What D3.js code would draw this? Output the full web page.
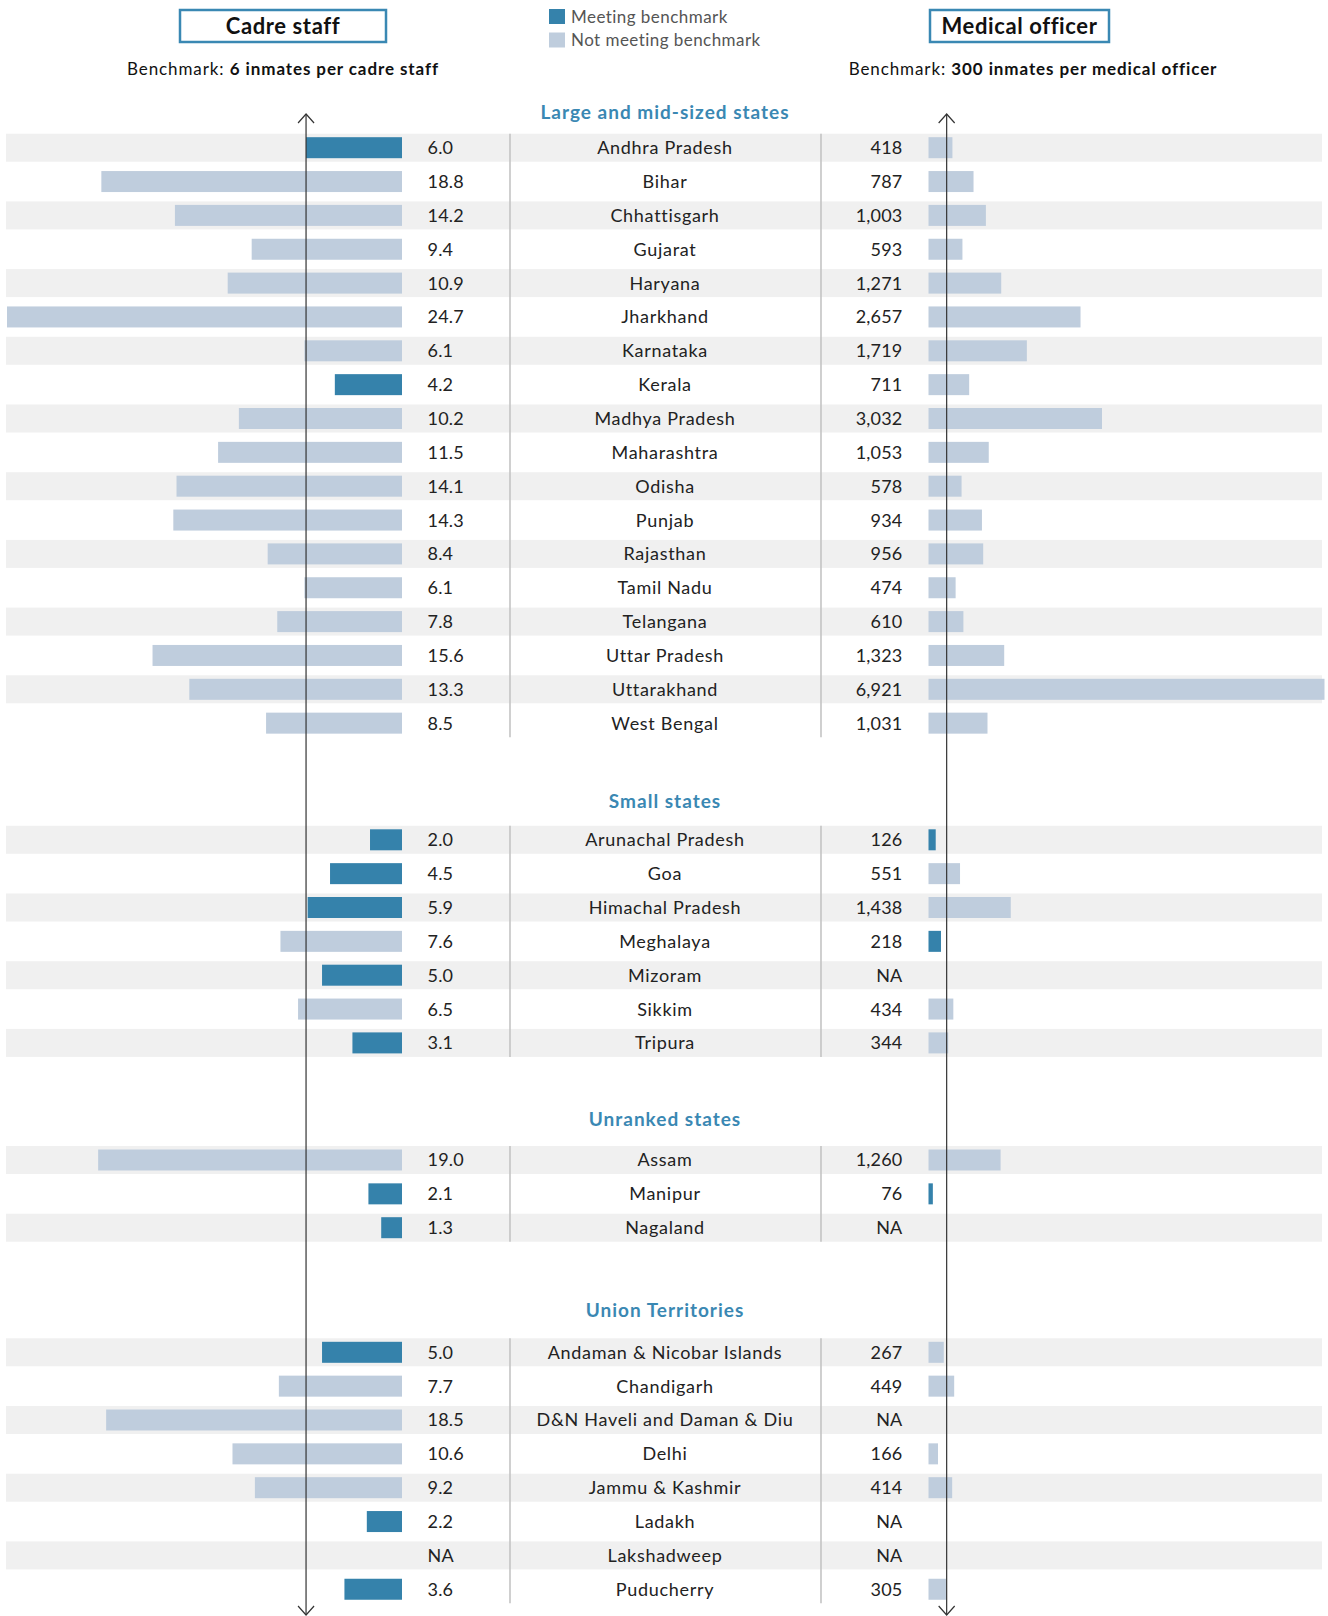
<!DOCTYPE html>
<html>
<head>
<meta charset="utf-8">
<script src="https://cdn.jsdelivr.net/npm/d3@7/dist/d3.min.js"></script>
<style>
  html, body { margin: 0; padding: 0; background: #fff; }
  svg { display: block; font-family: Lato, "Noto Sans", sans-serif; }
</style>
</head>
<body>
<svg id="chart" width="1328" height="1616"></svg>
<script>
// Inmates per cadre staff and per medical officer, by state / UT
const groupTitles = ["Large and mid-sized states", "Small states", "Unranked states", "Union Territories"];

const largeStates = ["Andhra Pradesh", "Bihar", "Chhattisgarh", "Gujarat", "Haryana", "Jharkhand", "Karnataka", "Kerala",
  "Madhya Pradesh", "Maharashtra", "Odisha", "Punjab", "Rajasthan", "Tamil Nadu", "Telangana", "Uttar Pradesh",
  "Uttarakhand", "West Bengal"];
const largeCadre = [6.0, 18.8, 14.2, 9.4, 10.9, 24.7, 6.1, 4.2, 10.2, 11.5, 14.1, 14.3, 8.4, 6.1, 7.8, 15.6, 13.3, 8.5];
const largeMedical = [418, 787, 1003, 593, 1271, 2657, 1719, 711, 3032, 1053, 578, 934, 956, 474, 610, 1323, 6921, 1031];

const smallStates = ["Arunachal Pradesh", "Goa", "Himachal Pradesh", "Meghalaya", "Mizoram", "Sikkim", "Tripura"];
const smallCadre = [2.0, 4.5, 5.9, 7.6, 5.0, 6.5, 3.1];
const smallMedical = [126, 551, 1438, 218, null, 434, 344];

const unrankedStates = ["Assam", "Manipur", "Nagaland"];
const unrankedCadre = [19.0, 2.1, 1.3];
const unrankedMedical = [1260, 76, null];

const unionTerritories = ["Andaman & Nicobar Islands", "Chandigarh", "D&N Haveli and Daman & Diu", "Delhi",
  "Jammu & Kashmir", "Ladakh", "Lakshadweep", "Puducherry"];
const utCadre = [5.0, 7.7, 18.5, 10.6, 9.2, 2.2, null, 3.6];
const utMedical = [267, 449, null, 166, 414, null, null, 305];

// Union Territories are not rated against the medical officer benchmark
const medicalRated = [true, true, true, false];

const cadreBenchmark = 6;
const medicalBenchmark = 300;

const groupNames = [largeStates, smallStates, unrankedStates, unionTerritories];
const groupCadre = [largeCadre, smallCadre, unrankedCadre, utCadre];
const groupMedical = [largeMedical, smallMedical, unrankedMedical, utMedical];

// ---- layout ----
const W = 1328, H = 1616;
const rowStep = 33.85;
const bandH = 28, barH = 21;
const headerY = [112, 801, 1119, 1310.5];
const firstRowY = [147.7, 839.8, 1160, 1352.3];

const colors = {
  meet: "#3582ab",
  miss: "#bfcddd",
  band: "#f0f0f0",
  accent: "#3a88b3",
  text: "#222222",
  legendText: "#555555",
  divider: "#c4c4c4",
  axis: "#333333"
};

const xCadre = d3.scaleLinear().domain([0, 24.7]).range([402, 7]);
const xMed = d3.scaleLinear().domain([0, 6921]).range([928.5, 1324.5]);

const fmtCadre = d3.format(".1f");
const fmtMed = d3.format(",");

const rows = [];
groupNames.forEach((names, g) => {
  names.forEach((name, i) => {
    rows.push({
      group: g, index: i, name,
      cadre: groupCadre[g][i],
      medical: groupMedical[g][i],
      y: firstRowY[g] + i * rowStep
    });
  });
});

const svg = d3.select("#chart");

// ---- alternating row bands ----
svg.append("g").selectAll("rect")
  .data(rows.filter(d => d.index % 2 === 0))
  .join("rect")
  .attr("x", 6).attr("width", W - 12)
  .attr("y", d => d.y - bandH / 2).attr("height", bandH)
  .attr("fill", colors.band);

// ---- cadre staff bars (grow leftwards) ----
svg.append("g").selectAll("rect")
  .data(rows.filter(d => d.cadre != null))
  .join("rect")
  .attr("x", d => xCadre(d.cadre))
  .attr("width", d => xCadre(0) - xCadre(d.cadre))
  .attr("y", d => d.y - barH / 2).attr("height", barH)
  .attr("fill", d => d.cadre <= cadreBenchmark ? colors.meet : colors.miss);

// ---- medical officer bars (grow rightwards) ----
svg.append("g").selectAll("rect")
  .data(rows.filter(d => d.medical != null))
  .join("rect")
  .attr("x", xMed(0))
  .attr("width", d => xMed(d.medical) - xMed(0))
  .attr("y", d => d.y - barH / 2).attr("height", barH)
  .attr("fill", d => medicalRated[d.group] && d.medical <= medicalBenchmark ? colors.meet : colors.miss);

// ---- column dividers per group ----
const dividers = svg.append("g").attr("stroke", colors.divider).attr("stroke-width", 1.6);
groupNames.forEach((names, g) => {
  const top = firstRowY[g] - bandH / 2;
  const bottom = firstRowY[g] + (names.length - 1) * rowStep + bandH / 2;
  [510, 821].forEach(x => {
    dividers.append("line").attr("x1", x).attr("x2", x).attr("y1", top).attr("y2", bottom);
  });
});

// ---- row text ----
const textG = svg.append("g").attr("font-size", 18).attr("fill", colors.text);
textG.selectAll("text.cadre")
  .data(rows).join("text").attr("class", "cadre")
  .attr("x", 427.5).attr("y", d => d.y).attr("dy", "0.36em")
  .attr("letter-spacing", 0.2)
  .text(d => d.cadre == null ? "NA" : fmtCadre(d.cadre));
textG.selectAll("text.name")
  .data(rows).join("text").attr("class", "name")
  .attr("x", 665).attr("y", d => d.y).attr("dy", "0.36em")
  .attr("text-anchor", "middle")
  .attr("letter-spacing", 0.7)
  .text(d => d.name);
textG.selectAll("text.med")
  .data(rows).join("text").attr("class", "med")
  .attr("x", 902.5).attr("y", d => d.y).attr("dy", "0.36em")
  .attr("text-anchor", "end")
  .attr("letter-spacing", 0.2)
  .text(d => d.medical == null ? "NA" : fmtMed(d.medical));

// ---- group headings ----
svg.append("g").selectAll("text")
  .data(groupTitles).join("text")
  .attr("x", 665).attr("y", (d, i) => headerY[i]).attr("dy", "0.36em")
  .attr("text-anchor", "middle")
  .attr("font-size", 19).attr("font-weight", 700)
  .attr("letter-spacing", 1)
  .attr("fill", colors.accent)
  .text(d => d);

// ---- benchmark axes with arrowheads ----
function benchmarkAxis(x) {
  const g = svg.append("g").attr("stroke", colors.axis).attr("fill", "none").attr("stroke-width", 1.2);
  const top = 114, bottom = 1615;
  g.append("line").attr("x1", x).attr("x2", x).attr("y1", top).attr("y2", bottom);
  g.append("polyline").attr("points", `${x - 8},${top + 9} ${x},${top} ${x + 8},${top + 9}`);
  g.append("polyline").attr("points", `${x - 8},${bottom - 9} ${x},${bottom} ${x + 8},${bottom - 9}`);
}
benchmarkAxis(xCadre(cadreBenchmark));
benchmarkAxis(xMed(medicalBenchmark) + 1);

// ---- panel titles ----
const titles = [
  { label: "Cadre staff", x0: 180, x1: 386, cx: 283, lead: "Benchmark: ", bold: "6 inmates per cadre staff" },
  { label: "Medical officer", x0: 930, x1: 1109, cx: 1033, lead: "Benchmark: ", bold: "300 inmates per medical officer" }
];
titles.forEach(t => {
  svg.append("rect")
    .attr("x", t.x0).attr("y", 10).attr("width", t.x1 - t.x0).attr("height", 32)
    .attr("fill", "#fff").attr("stroke", colors.accent).attr("stroke-width", 2.5);
  svg.append("text")
    .attr("x", (t.x0 + t.x1) / 2).attr("y", 26).attr("dy", "0.36em")
    .attr("text-anchor", "middle").attr("font-size", 22).attr("font-weight", 700)
    .attr("letter-spacing", 0.6)
    .attr("fill", "#111").text(t.label);
  const b = svg.append("text")
    .attr("x", t.cx).attr("y", 69).attr("dy", "0.36em")
    .attr("text-anchor", "middle").attr("font-size", 17).attr("fill", "#111")
    .attr("letter-spacing", 0.9);
  b.append("tspan").text(t.lead);
  b.append("tspan").attr("font-weight", 700).text(t.bold);
});

// ---- legend ----
const legendItems = [
  { label: "Meeting benchmark", color: colors.meet },
  { label: "Not meeting benchmark", color: colors.miss }
];
const legend = svg.append("g").selectAll("g")
  .data(legendItems).join("g")
  .attr("transform", (d, i) => `translate(549, ${9 + i * 23.5})`);
legend.append("rect").attr("width", 16).attr("height", 15).attr("fill", d => d.color);
legend.append("text")
  .attr("x", 22).attr("y", 7.5).attr("dy", "0.36em")
  .attr("font-size", 17).attr("fill", colors.legendText)
  .attr("letter-spacing", 0.45)
  .text(d => d.label);
</script>
</body>
</html>
